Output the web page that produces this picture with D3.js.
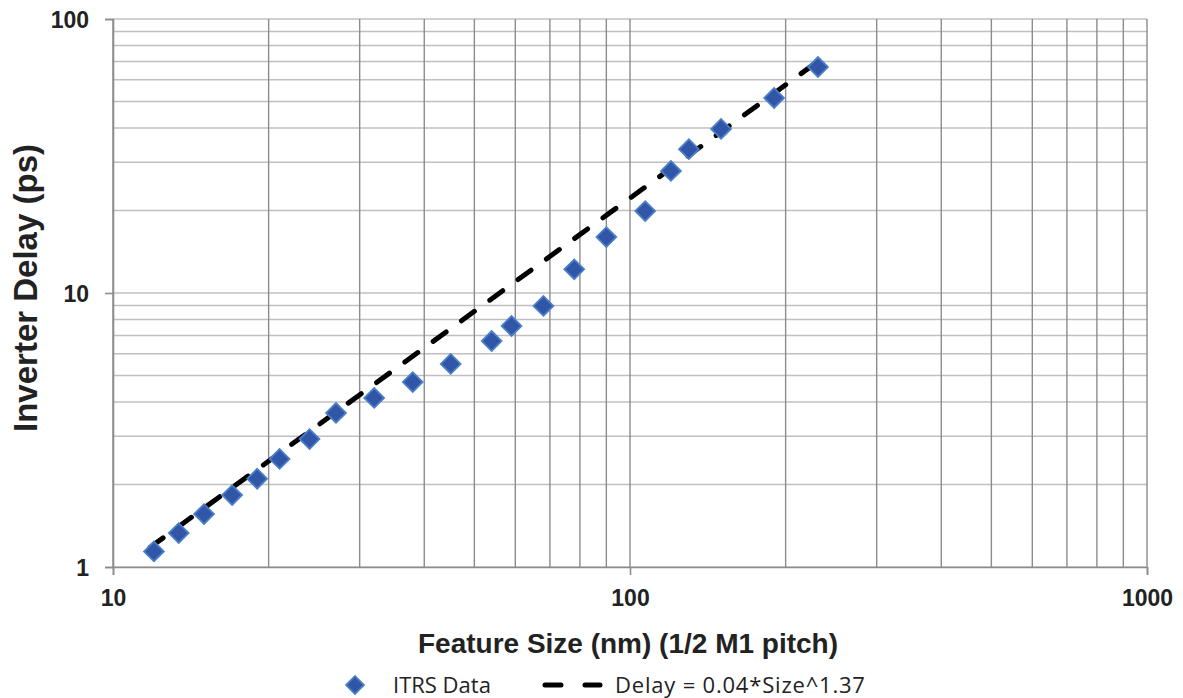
<html>
<head>
<meta charset="UTF-8">
<title>Inverter delay vs feature size</title>
<script src="https://d3js.org/d3.v7.min.js"></script>
<style>
    body { margin: 0; background: #fff; }
    .tick-label { font: bold 23px "Liberation Sans", Arial, sans-serif; fill: #222; }
    .axis-title { font: bold 28px "Liberation Sans", Arial, sans-serif; fill: #222; }
    .axis-title.y { font-size: 33px; }
    .legend text { font: 22px "Open Sans", "Liberation Sans", sans-serif; fill: #222; }
</style>
</head>
<body>
<svg width="1183" height="698"></svg>
<script>
    // ITRS data points
    var featureSize = [12, 13.4, 15, 17, 19, 21, 24, 27, 32, 38, 45, 54, 59, 68, 78, 90, 107, 120, 130, 150, 190, 231];
    var delayPs = [1.14, 1.33, 1.56, 1.83, 2.1, 2.48, 2.93, 3.65, 4.14, 4.73, 5.51, 6.68, 7.58, 8.97, 12.2, 16.0, 19.9, 27.9, 33.5, 39.7, 51.5, 66.8];

    // fitted power-law line endpoints (straight in log-log)
    var trendSize = [11.8, 226];
    var trendDelay = [1.18, 68];

    var xTicks = [10, 100, 1000],
        yTicks = [1, 10, 100];

    var legendLabels = ['ITRS Data', 'Delay = 0.04*Size^1.37'];

    var svg = d3.select('svg'),
        plot = { left: 113, right: 1147, top: 19, bottom: 567 };

    var x = d3.scaleLog().domain([10, 1000]).range([plot.left, plot.right]),
        y = d3.scaleLog().domain([1, 100]).range([plot.bottom, plot.top]);

    var grid = svg.append('g');

    // horizontal grid (lighter)
    grid.selectAll('line.h')
        .data(y.ticks())
        .enter().append('line')
        .attr('class', 'h')
        .attr('x1', plot.left).attr('x2', plot.right)
        .attr('y1', d => y(d)).attr('y2', d => y(d))
        .attr('stroke', '#c0c0c0').attr('stroke-width', 1.4);

    // vertical grid (darker)
    grid.selectAll('line.v')
        .data(x.ticks())
        .enter().append('line')
        .attr('class', 'v')
        .attr('x1', d => x(d)).attr('x2', d => x(d))
        .attr('y1', plot.top).attr('y2', plot.bottom)
        .attr('stroke', '#8c8c8c').attr('stroke-width', 1.4);

    // axes
    var xAxis = svg.append('g')
        .attr('transform', 'translate(0,' + plot.bottom + ')')
        .call(d3.axisBottom(x).tickValues(xTicks).tickSize(8).tickPadding(15).tickFormat(d3.format('d')));
    var yAxis = svg.append('g')
        .attr('transform', 'translate(' + plot.left + ',0)')
        .call(d3.axisLeft(y).tickValues(yTicks).tickSize(8).tickPadding(16).tickFormat(d3.format('d')));

    [xAxis, yAxis].forEach(function(a) {
        a.attr('font-size', null).attr('font-family', null);
        a.select('.domain').attr('stroke', '#8c8c8c').attr('stroke-width', 1.6);
        a.selectAll('.tick line').attr('stroke', '#8c8c8c').attr('stroke-width', 1.6);
        a.selectAll('.tick text').attr('class', 'tick-label');
    });
    yAxis.selectAll('.tick text').attr('dy', '0.35em');

    // axis titles
    svg.append('text')
        .attr('class', 'axis-title')
        .attr('x', 628).attr('y', 653)
        .attr('text-anchor', 'middle')
        .text('Feature Size (nm) (1/2 M1 pitch)');
    svg.append('text')
        .attr('class', 'axis-title y')
        .attr('transform', 'translate(37,288) rotate(-90)')
        .attr('text-anchor', 'middle')
        .text('Inverter Delay (ps)');

    // trend line
    var line = d3.line().x(d => x(d[0])).y(d => y(d[1]));
    svg.append('path')
        .datum(d3.zip(trendSize, trendDelay))
        .attr('d', line)
        .attr('fill', 'none')
        .attr('stroke', '#000')
        .attr('stroke-width', 5)
        .attr('stroke-linecap', 'round')
        .attr('stroke-dasharray', '16,19');

    // data markers
    var diamond = d3.symbol().type(d3.symbolSquare).size(196);
    svg.append('g')
        .selectAll('path')
        .data(d3.zip(featureSize, delayPs))
        .enter().append('path')
        .attr('transform', d => 'translate(' + x(d[0]) + ',' + y(d[1]) + ') rotate(45)')
        .attr('d', diamond)
        .attr('fill', '#3156a8')
        .attr('stroke', '#4a7fc7')
        .attr('stroke-width', 1.8);

    // legend
    var legend = svg.append('g').attr('class', 'legend');
    legend.append('path')
        .attr('transform', 'translate(355,685) rotate(45)')
        .attr('d', d3.symbol().type(d3.symbolSquare).size(160))
        .attr('fill', '#3156a8')
        .attr('stroke', '#4a7fc7')
        .attr('stroke-width', 1.8);
    legend.append('text').attr('x', 393).attr('y', 693).text(legendLabels[0]);
    legend.append('line')
        .attr('x1', 545).attr('x2', 600)
        .attr('y1', 685).attr('y2', 685)
        .attr('stroke', '#000').attr('stroke-width', 5)
        .attr('stroke-linecap', 'round')
        .attr('stroke-dasharray', '16,24');
    legend.append('text').attr('x', 615).attr('y', 693)
        .attr('letter-spacing', '0.8px')
        .text(legendLabels[1]);
</script>
</body>
</html>
